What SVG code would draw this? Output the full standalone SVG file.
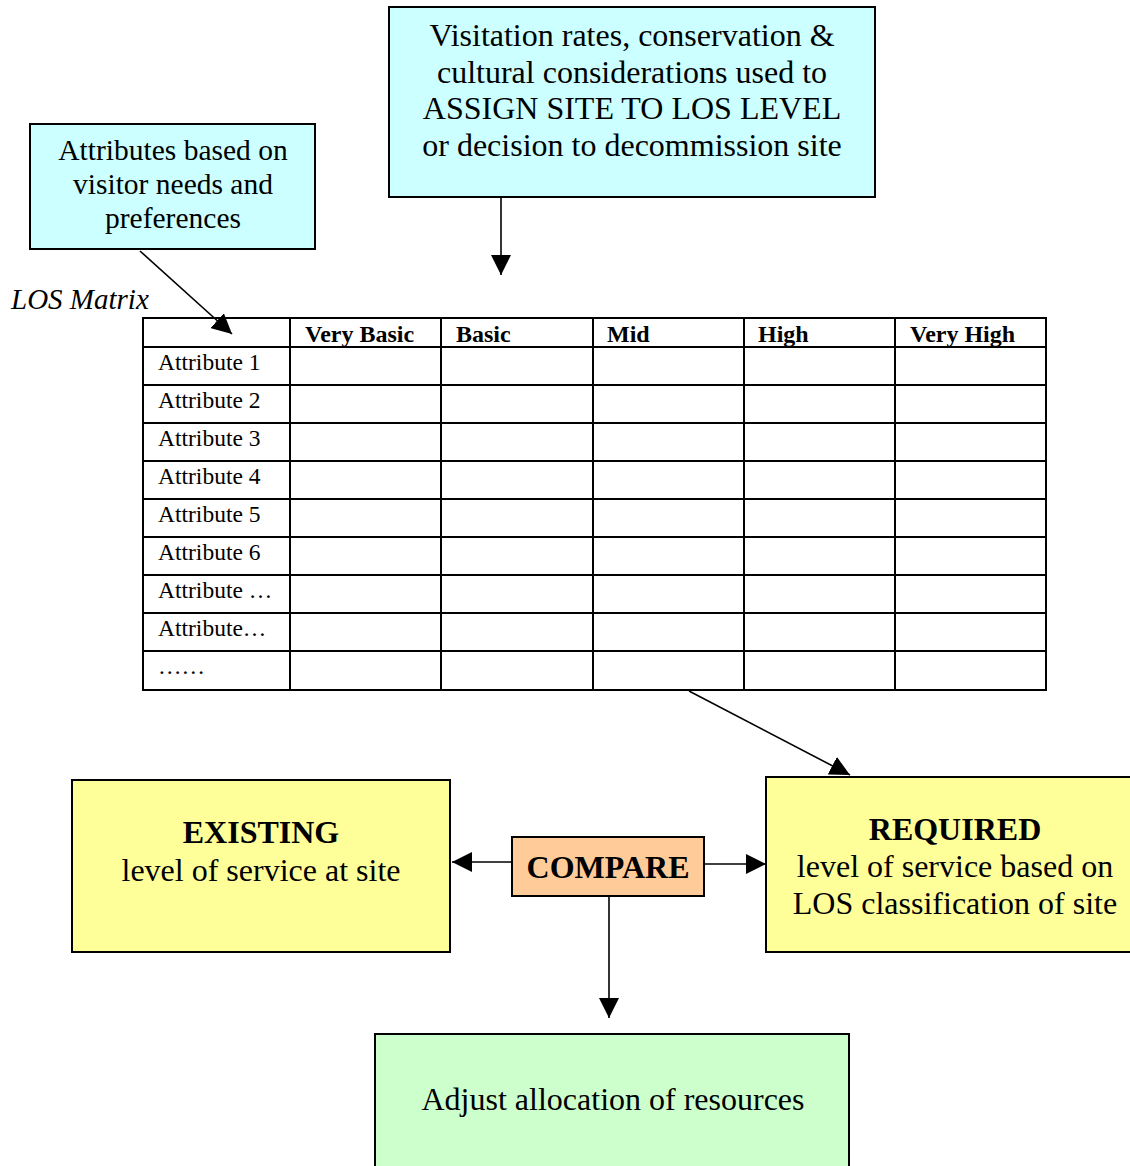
<svg xmlns="http://www.w3.org/2000/svg" width="1130" height="1166" viewBox="0 0 1130 1166">
<style>
text{font-family:"Liberation Serif","Times New Roman",serif;fill:#000}
.box{stroke:#000;stroke-width:2}
.t26{font-size:29.5px;text-anchor:middle}
.t30{font-size:32px;text-anchor:middle}
.hd{font-size:24px;font-weight:bold}
.rl{font-size:23.5px}
.grid{stroke:#000;stroke-width:2;fill:none}
.con{stroke:#000;stroke-width:1.6;fill:none}
</style>
<defs>
<marker id="ahL" viewBox="0 0 20 20" refX="20" refY="10" markerWidth="20" markerHeight="20" markerUnits="userSpaceOnUse" orient="auto">
<path d="M0,0 L20,10 L0,20 Z" fill="#000"/>
</marker>
</defs>

<g id="attributes">
<rect class="box" x="30" y="124" width="285" height="125" fill="#CCFFFF"/>
<text class="t26" x="173" y="160">Attributes based on</text>
<text class="t26" x="173" y="194">visitor needs and</text>
<text class="t26" x="173" y="228">preferences</text>
</g>

<g id="visitation">
<rect class="box" x="389" y="7" width="486" height="190" fill="#CCFFFF"/>
<text class="t30" x="632" y="46">Visitation rates, conservation &amp;</text>
<text class="t30" x="632" y="83">cultural considerations used to</text>
<text class="t30" x="632" y="119">ASSIGN SITE TO LOS LEVEL</text>
<text class="t30" x="632" y="156">or decision to decommission site</text>
</g>

<g id="los-matrix">
<text x="11" y="309" font-size="29" font-style="italic">LOS Matrix</text>
<rect class="grid" x="143" y="318" width="903" height="372"/>
<path class="grid" d="M290 318V690M441 318V690M593 318V690M744 318V690M895 318V690"/>
<path class="grid" d="M143 347H1046M143 385H1046M143 423H1046M143 461H1046M143 499H1046M143 537H1046M143 575H1046M143 613H1046M143 651H1046"/>
<text class="hd" x="305" y="342">Very Basic</text>
<text class="hd" x="456" y="342">Basic</text>
<text class="hd" x="607" y="342">Mid</text>
<text class="hd" x="758" y="342">High</text>
<text class="hd" x="910" y="342">Very High</text>
<text class="rl" x="158" y="370">Attribute 1</text>
<text class="rl" x="158" y="408">Attribute 2</text>
<text class="rl" x="158" y="446">Attribute 3</text>
<text class="rl" x="158" y="484">Attribute 4</text>
<text class="rl" x="158" y="522">Attribute 5</text>
<text class="rl" x="158" y="560">Attribute 6</text>
<text class="rl" x="158" y="598">Attribute …</text>
<text class="rl" x="158" y="636">Attribute…</text>
<text class="rl" x="158" y="674">……</text>
</g>

<g id="existing">
<rect class="box" x="72" y="780" width="378" height="172" fill="#FFFF99"/>
<text class="t30" x="261" y="843" font-weight="bold">EXISTING</text>
<text class="t30" x="261" y="881">level of service at site</text>
</g>

<g id="compare">
<rect class="box" x="512" y="837" width="192" height="59" fill="#FFCC99"/>
<text class="t30" x="608" y="878" font-weight="bold">COMPARE</text>
</g>

<g id="required">
<rect class="box" x="766" y="777" width="370" height="175" fill="#FFFF99"/>
<text class="t30" x="955" y="840" font-weight="bold">REQUIRED</text>
<text class="t30" x="955" y="877">level of service based on</text>
<text class="t30" x="955" y="914">LOS classification of site</text>
</g>

<g id="adjust">
<rect class="box" x="375" y="1034" width="474" height="140" fill="#CCFFCC"/>
<text class="t30" x="613" y="1110">Adjust allocation of resources</text>
</g>

<g id="connectors">
<line class="con" x1="501" y1="197" x2="501" y2="275" marker-end="url(#ahL)"/>
<line class="con" x1="140" y1="251" x2="232" y2="334" marker-end="url(#ahL)"/>
<line class="con" x1="689" y1="691" x2="850" y2="775" marker-end="url(#ahL)"/>
<line class="con" x1="512" y1="862" x2="452" y2="862" marker-end="url(#ahL)"/>
<line class="con" x1="704" y1="864" x2="766" y2="864" marker-end="url(#ahL)"/>
<line class="con" x1="609" y1="896" x2="609" y2="1018" marker-end="url(#ahL)"/>
</g>
</svg>
